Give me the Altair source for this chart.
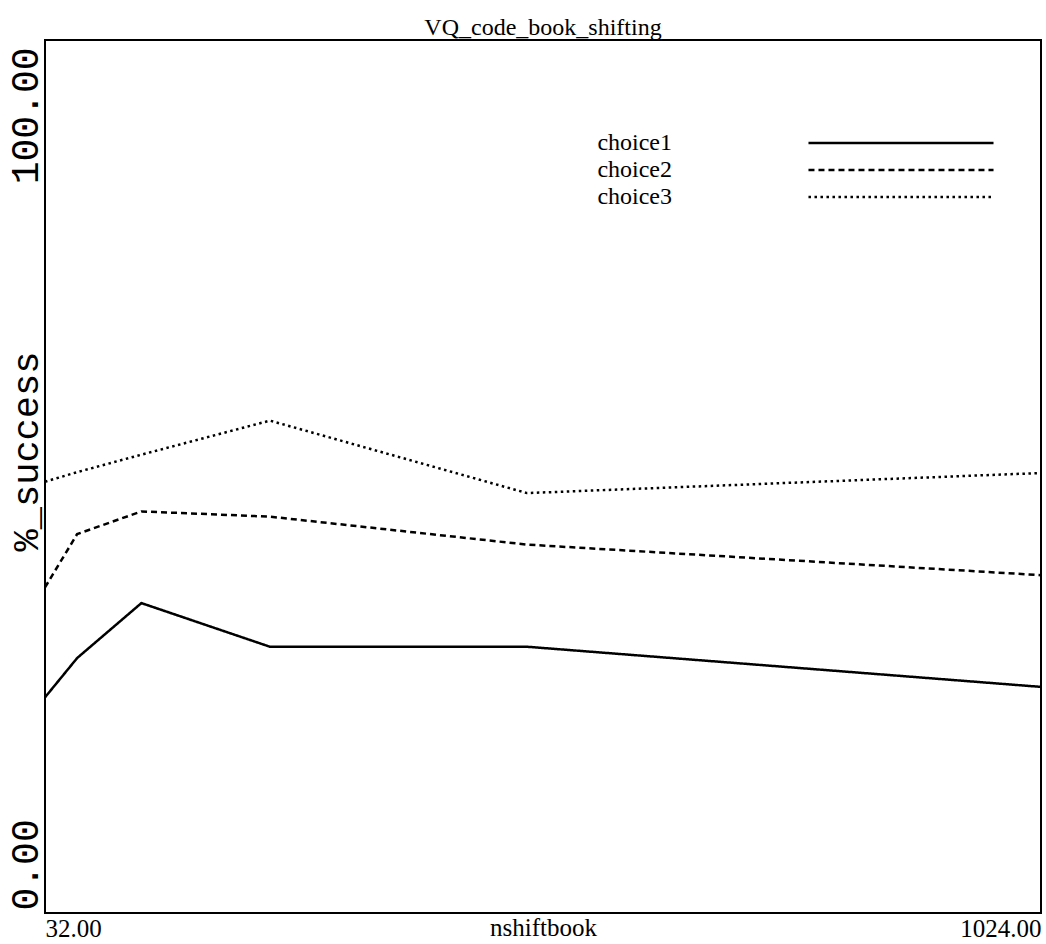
import altair as alt
import pandas as pd

# nshiftbook values (x) and % success for each choice
nshiftbook = [32, 64, 128, 256, 512, 1024]
choice1 = [24.7, 29.2, 35.5, 30.5, 30.5, 25.9]
choice2 = [37.3, 43.4, 46.0, 45.4, 42.2, 38.7]
choice3 = [49.4, 50.5, 52.5, 56.4, 48.1, 50.4]

series_names = ["choice1", "choice2", "choice3"]
series_values = [choice1, choice2, choice3]
dash_styles = [[1, 0], [6, 4], [2.5, 3.5]]

rows = []
for name, vals in zip(series_names, series_values):
    for x, y in zip(nshiftbook, vals):
        rows.append({"nshiftbook": x, "success": y, "series": name})
df = pd.DataFrame(rows)

serif = "Liberation Serif"
mono = "Liberation Mono"

x_axis = alt.Axis(
    values=[32, 1024], format=".2f", labelFlush=True, ticks=False, domain=False,
    grid=False, labelFont=serif, labelFontSize=25, labelColor="black",
    labelBaseline="top", labelPadding=3,
    title="nshiftbook", titleFont=serif, titleFontSize=25, titleFontWeight="normal",
    titleColor="black", titleBaseline="top", titleY=2,
)

y_axis = alt.Axis(
    values=[0, 100], format=".2f", labelAngle=270, ticks=False, domain=False, grid=False,
    labelAlign=alt.condition("datum.value <= 0", alt.value("left"), alt.value("right")),
    labelOffset=alt.condition("datum.value <= 0", alt.value(-3), alt.value(7)),
    labelBaseline="alphabetic", labelPadding=8,
    labelFont=mono, labelFontSize=38, labelColor="black",
    title="%_success", titleFont=mono, titleFontSize=37, titleFontWeight="normal",
    titleColor="black", titleAngle=270, titleAlign="center", titleBaseline="alphabetic",
    titleX=-8, titleY=411,
)

# long horizontal line samples, labels placed to their left
legend = alt.Legend(
    title=None, orient="none", legendX=843, legendY=90, padding=0,
    symbolType="M-8,0H8", symbolSize=535, symbolStrokeWidth=2.5,
    symbolStrokeColor="black", labelFont=serif, labelFontSize=24, labelColor="black",
    labelAlign="right", labelOffset=alt.ExprRef(expr="-242"), rowPadding=2,
)

chart = alt.Chart(df).mark_line(color="black", strokeWidth=2.5).encode(
    x=alt.X("nshiftbook:Q", scale=alt.Scale(domain=[32, 1024], nice=False, zero=False), axis=x_axis),
    y=alt.Y("success:Q", scale=alt.Scale(domain=[0, 100], nice=False), axis=y_axis),
    strokeDash=alt.StrokeDash(
        "series:N", scale=alt.Scale(domain=series_names, range=dash_styles), legend=legend
    ),
).properties(
    width=996, height=873,
    title=alt.TitleParams(
        "VQ_code_book_shifting", font=serif, fontSize=24, fontWeight="normal",
        color="black", anchor="middle", baseline="alphabetic", offset=5, dy=24,
    ),
    autosize=alt.AutoSizeParams(type="none"),
    padding={"left": 45, "top": 40, "right": 5, "bottom": 31},
    background="white",
).configure_view(stroke="black", strokeWidth=2)

chart.save("out.html", embed_options={"renderer": "svg", "actions": False})
